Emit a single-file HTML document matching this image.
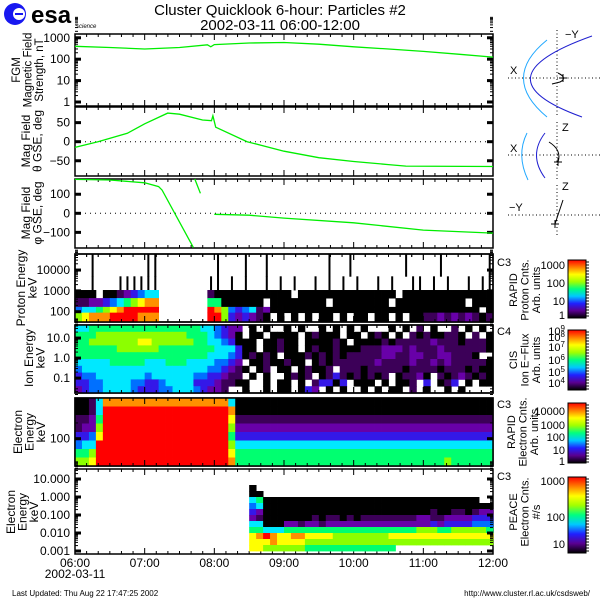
<!DOCTYPE html>
<html><head><meta charset="utf-8"><style>
html,body{margin:0;padding:0;background:#fff;}
svg{display:block;font-family:"Liberation Sans",sans-serif;}
</style></head><body>
<svg id="chart" width="600" height="600" viewBox="0 0 600 600" xmlns="http://www.w3.org/2000/svg">
<rect x="0" y="0" width="600" height="600" fill="#fff"/>
<g>
<circle cx="15" cy="14" r="11" fill="#1818f0"/>
<circle cx="19" cy="14" r="6" fill="#fff"/>
<rect x="15" y="13" width="8" height="2" fill="#1818f0"/>
<text x="31" y="23" font-size="24" font-weight="bold" fill="#000">esa</text>
<text x="76" y="28" font-size="6" font-style="italic" fill="#000">science</text>
</g>
<text x="280" y="15" font-size="15" text-anchor="middle">Cluster Quicklook 6-hour: Particles #2</text>
<text x="280" y="30" font-size="15" text-anchor="middle">2002-03-11 06:00-12:00</text>
<g id="plots"></g>
<g fill="none">
<g stroke="#000" stroke-dasharray="1,2.5" stroke-width="1">
<line x1="508" y1="78" x2="600" y2="78"/><line x1="557" y1="30" x2="557" y2="117"/>
<line x1="508" y1="155" x2="600" y2="155"/><line x1="557" y1="122" x2="557" y2="180"/>
<line x1="508" y1="215" x2="600" y2="215"/><line x1="557" y1="185" x2="557" y2="237"/>
</g>
<path d="M547,40 Q500,78 547,117" stroke="#20a8ff"/>
<path d="M592,36 Q474,78 582,117" stroke="#2020d0"/>
<path d="M527,133 Q516,155 528,180" stroke="#20a8ff"/>
<path d="M545,133 Q528,155 545,178" stroke="#2020d0"/>
<path d="M558,73 Q568,78 560,82 L552,84" stroke="#000"/>
<path d="M549,142 Q562,150 558,162" stroke="#000"/>
<path d="M563,200 L555,224" stroke="#000"/>
<g stroke="#000"><line x1="559" y1="78" x2="567" y2="78"/><line x1="563" y1="74" x2="563" y2="82"/>
<line x1="554" y1="162" x2="562" y2="162"/><line x1="558" y1="158" x2="558" y2="166"/>
<line x1="551" y1="224" x2="559" y2="224"/><line x1="555" y1="220" x2="555" y2="228"/></g>
<g fill="#000" stroke="none" font-size="11">
<text x="565" y="38">−Y</text><text x="510" y="74">X</text>
<text x="562" y="131">Z</text><text x="510" y="152">X</text>
<text x="562" y="190">Z</text><text x="509" y="211">−Y</text>
</g>
</g>
<text x="75" y="578" font-size="12" text-anchor="middle">2002-03-11</text>
<text x="12" y="596" font-size="8">Last Updated:  Thu Aug 22 17:47:25 2002</text>
<text x="590" y="596" font-size="8" text-anchor="end">http://www.cluster.rl.ac.uk/csdsweb/</text>
</svg>
<script>
// ---------- data ----------
const hourTicks = ["06:00","07:00","08:00","09:00","10:00","11:00","12:00"];
const fgmT = [6.0,6.5,7.0,7.5,7.9,7.95,8.0,8.5,9.0,9.5,10.0,10.5,11.0,11.5,12.0];
const fgmV = [400,350,300,350,470,380,480,570,600,500,380,300,230,170,125];
const thetaT = [6.0,6.33,6.75,7.0,7.33,7.5,7.83,7.96,7.98,8.02,8.47,9.0,9.5,10.0,10.5,10.75,12.0];
const thetaV = [-15,0,22,47,75,72,57,55,68,38,0,-25,-42,-52,-60,-64,-65];
const phiT = [6.0,6.5,7.0,7.2,7.25,7.7,null,7.72,7.8,null,8.0,8.5,9.0,10.0,11.0,12.0];
const phiV = [178,175,160,140,122,-180,null,180,105,null,-5,-10,-25,-50,-88,-104];
const fgmTicks = [1,10,100,1000];
const thetaTicks = [-50,0,50];
const phiTicks = [-100,0,100];
const protonTicks = [100,1000,10000];
const ionTicks = [0.1,1,10];
const elecTicks = [100];
const peaceTicks = [0.001,0.01,0.1,1,10];
const peaceTickLabels = ["0.001","0.010","0.100","1.000","10.000"];
const ionTickLabels = ["0.1","1.0","10.0"];
// spectrogram rows (top -> bottom), one char per 6-minute bin, '.' = no data
const protonEdges = [59000,5000,1100,450,170,90,32];
const protonSpikeRows = 2;
const protonRows = [
"..0.......00........0...0..0........0..0.......0....0......0",
"..0...000000.......00.0.0..0.0.0..0.0.0.0..0.0..00.0.0..0.00",
"000.00123455.......100000000000.00000000000000.0000000000000",
"112234567899.......66000000.00000000.00000000.0000000000.000",
"4556789RRRRR.......R97434512000000000000000000000000000000.0",
"78999RRRR999.......RR7323210.0.0.0.00.0.00.00.0.0011212121010"];
const ionRows = [
"556666666666666666554322.0.0..0.0..0.0.0.0...0.0.1.0..1.0.0",
"666777777777777766654320.00.0000.01000.00.010.0.10100110.1.00",
"66777777788777777665543000.00100.000010.00001011111211101110",
"66666677777766666666555300.00100.010010001112221211121111110",
"66666666666666666665554301010.0001010101111122112211221110",
"555556666655566655554432.00100100.01011111121111211212111110",
"4555555555555555555443210.01.00.01001.1110111110111101110100",
"344555555545555554433211.0.0..0101.0131010101.01120.10121010",
"3344555544334555533321100..0.00.0.13303.000.0.001.3.013.0.00",
"2344555543334455543221..0..0.00.032.0.0..0.0.00.1.0..0.0.."];
const elecRows = [
"001599999999999999999950000000000000000000000000000000000000",
"0015RRRRRRRRRRRRRRRRRR90000000000000000000000000000000000000",
"1126RRRRRRRRRRRRRRRRRR81111111111111111111111111111111111111",
"1227RRRRRRRRRRRRRRRRRR72222222222222222222222222222222222222",
"3348RRRRRRRRRRRRRRRRRR63333333333333333333333333333333333333",
"455RRRRRRRRRRRRRRRRRRR75555555555555555555555555555555555555",
"667RRRRRRRRRRRRRRRRRRR86666666666666666666666666666666666666",
"778RRRRRRRRRRRRRRRRRRR96666666666666666666666666666667666666"];
const peaceStartBin = 25;
const peaceRows = [
"...................................",
"0..................................",
"00.................................",
"560000000000000000000000000000000..",
"45000000000000000000000000000000000",
"32000000000000000000000000100110122",
"21000000010110101111111122112222333",
"55000221221222222222222222323333444",
"66555666666666666666666677766777776",
"89R98899888877777777888888888888888",
"88898888777777777777777777777777777",
"887777776666666666666..............."];
// ---------- helpers ----------
const svg = document.getElementById('plots');
const NS = 'http://www.w3.org/2000/svg';
const X0 = 75, X1 = 493;
function xs(t){ return X0 + (t-6)/6*(X1-X0); }
function logY(y0,y1,lo,hi){ return v => y1 - (Math.log10(v)-Math.log10(lo))/(Math.log10(hi)-Math.log10(lo))*(y1-y0); }
function linY(y0,y1,lo,hi){ return v => y1 - (v-lo)/(hi-lo)*(y1-y0); }
const CMAP = {'0':'#000000','1':'#3c0058','2':'#6800a8','3':'#3418e8','4':'#0070ff','5':'#00e8ff','6':'#00ff70','7':'#8cff00','8':'#ffff00','9':'#ff9000','R':'#ff0000'};
function mk(tag, attrs, parent){
  const e = document.createElementNS(NS, tag);
  for (const k in attrs) e.setAttribute(k, attrs[k]);
  (parent||svg).appendChild(e); return e;
}
function frame(y0,y1,name){
  const g = mk('g',{});
  
  
  mk('rect',{x:X0,y:y0,width:X1-X0,height:y1-y0,fill:'none',stroke:'#000','stroke-width':1.5},g);
  for(let m=0;m<=36;m++){
    const x = X0 + m*(X1-X0)/36; const L = (m%6===0)?6:3;
    mk('line',{x1:x,y1:y0,x2:x,y2:y0+L,stroke:'#000'},g);
    mk('line',{x1:x,y1:y1,x2:x,y2:y1-L,stroke:'#000'},g);
  }
  return g;
}
function yTicks(g, ticks, labels, yf, isLog){
  ticks.forEach((v,i)=>{
    const y = yf(v);
    const t = mk('text',{x:70,y:y+4,'font-size':12,'text-anchor':'end'},g);
    
    
    t.textContent = labels ? labels[i] : String(v).replace('-','−');
    mk('line',{x1:X0,y1:y,x2:X0+6,y2:y,stroke:'#000','stroke-width':3},g);
    mk('line',{x1:X1,y1:y,x2:X1-6,y2:y,stroke:'#000','stroke-width':3},g);
    if(isLog){
      for(let k=2;k<=9;k++){
        const yy = yf(v*k);
        if(yy<0||!isFinite(yy)) continue;
        mk('line',{x1:X0,y1:yy,x2:X0+3,y2:yy,stroke:'#000'},g);
        mk('line',{x1:X1,y1:yy,x2:X1-3,y2:yy,stroke:'#000'},g);
      }
    }
  });
}
function vlabel(lines, cx, cy, name, size){
  const t = mk('text',{transform:`translate(${cx},${cy}) rotate(-90)`,'font-size':size||12,'text-anchor':'middle'});
  
  
  lines.forEach((s,i)=>{ const ts = mk('tspan',{x:0,dy:i===0?0:11.5},t); ts.textContent=s; });
}
function line(T,V,xf,yf,g,name){
  let d=''; let pen=false;
  T.forEach((t,i)=>{ if(t===null){pen=false;return;} d += (pen?'L':'M')+xf(t).toFixed(1)+','+yf(V[i]).toFixed(1); pen=true; });
  const p = mk('path',{d:d,fill:'none',stroke:'#00ee00','stroke-width':1.3},g);
  
  
}
function spec(rows, edgesY, g, name, startBin, spikeRows){
  rows.forEach((r,ri)=>{
    for(let b=0;b<r.length;b++){
      const c = r[b]; if(!(c in CMAP)) continue;
      const bin = b + (startBin||0); if(bin>59) continue;
      let x = xs(6+bin*0.1), w = xs(6+(bin+1)*0.1)-x + 0.4;
      if(spikeRows && ri < spikeRows){ x = x + w/2 - 1; w = 2; }
      const cell = mk('rect',{x:x,y:edgesY[ri],width:w,height:edgesY[ri+1]-edgesY[ri]+0.4,fill:CMAP[c]},g);
      
      
    }
  });
}
function hdots(y,g){ mk('line',{x1:X0,y1:y,x2:X1,y2:y,stroke:'#000','stroke-dasharray':'1,4'},g); }
function cbar(y0,y1,labels,ys,name,sup){
  const g = mk('g',{});
  
  
  const id='grad'+name;
  const lg = mk('linearGradient',{id:id,x1:0,y1:1,x2:0,y2:0},g);
  ['#000000','#5a0090','#2020ff','#00c8ff','#00ff80','#a0ff00','#ffff00','#ff8000','#ff0000'].forEach((c,i,a)=>mk('stop',{offset:i/(a.length-1),'stop-color':c},lg));
  mk('rect',{x:568,y:y0,width:18,height:y1-y0,fill:`url(#${id})`,stroke:'#000'},g);
  for(let y=y0+2;y<y1;y+=3) mk('line',{x1:586,y1:y,x2:589,y2:y,stroke:'#000'},g);
  labels.forEach((s,i)=>{
    const t = mk('text',{x:565,y:ys[i]+4,'font-size':11,'text-anchor':'end'},g);
    if(sup){ t.textContent='10'; const ts=mk('tspan',{dy:-4,'font-size':8},t); ts.textContent=s; }
    else t.textContent=s;
  });
}
// ---------- panel 1: FGM ----------
let g = frame(34,106,'fgm-panel');
let yf = logY(34,102,1,1500);
yTicks(g,fgmTicks,null,yf,true);
line(fgmT,fgmV,xs,yf,g,'fgm-strength-line');
vlabel(['FGM','Magnetic Field','Strength, nT'],20,70,'fgm-y-axis-title',11.5);
// ---------- panel 2: theta ----------
g = frame(107,176,'theta-panel');
yf = linY(107,176,-90,91);
hdots(yf(0),g);
yTicks(g,thetaTicks,null,yf,false);
line(thetaT,thetaV,xs,yf,g,'theta-line');
vlabel(['Mag Field','θ GSE, deg'],30,141,'theta-y-axis-title',12);
// ---------- panel 3: phi ----------
g = frame(179,248,'phi-panel');
yf = linY(179,248,-182,180);
hdots(yf(0),g);
yTicks(g,phiTicks,null,yf,false);
line(phiT,phiV,xs,yf,g,'phi-line');
vlabel(['Mag Field','φ GSE, deg'],30,213,'phi-y-axis-title',12);
// ---------- panel 4: proton ----------
g = frame(254,322,'proton-panel');
yf = logY(254,322,32,59000);
spec(protonRows, protonEdges.map(yf), g, 'proton', 0, protonSpikeRows);
frame(254,322,'proton-frame');
yTicks(g,protonTicks,null,yf,true);
vlabel(['Proton Energy','keV'],25,288,'proton-y-axis-title',12);
// ---------- panel 5: ion ----------
g = frame(325,393,'ion-panel');
yf = logY(325,393,0.018,45);
const ionEdgesY = ionRows.map((r,i)=>325+i*(68/ionRows.length)).concat([393]);
spec(ionRows, ionEdgesY, g, 'ion');
frame(325,393,'ion-frame');
yTicks(g,ionTicks,ionTickLabels,yf,true);
vlabel(['Ion Energy','keV'],33,358,'ion-y-axis-title',12);
// ---------- panel 6: RAPID electrons ----------
g = frame(398,466,'rapid-electron-panel');
const elecEdgesY = elecRows.map((r,i)=>398+i*(68/elecRows.length)).concat([466]);
spec(elecRows, elecEdgesY, g, 'rapid-electron');
frame(398,466,'rapid-electron-frame');
yf = logY(398,466,30,600);
yTicks(g,elecTicks,null,yf,true);
vlabel(['Electron','Energy','keV'],22,432,'rapid-electron-y-axis-title',12);
// ---------- panel 7: PEACE ----------
g = frame(469,554,'peace-panel');
yf = logY(479,551,0.001,10);
const peaceEdgesY = peaceRows.map((r,i)=>479+i*(72/peaceRows.length)).concat([551]);
spec(peaceRows, peaceEdgesY, g, 'peace', peaceStartBin);
yTicks(g,peaceTicks,peaceTickLabels,yf,true);
vlabel(['Electron','Energy','keV'],15,512,'peace-y-axis-title',12);
// time labels
hourTicks.forEach((s,i)=>{
  const t = mk('text',{x:xs(6+i),y:567,'font-size':12,'text-anchor':'middle'});
  
  
  t.textContent = s;
});
// right side labels and colorbars
[['C3',262],['C4',331],['C3',404],['C3',476]].forEach(a=>{
  const t = mk('text',{x:497,y:a[1]+4,'font-size':11});
  
  
  t.textContent=a[0];
});
vlabel(['RAPID','Proton Cnts.','Arb. units'],517,290,'proton-colorbar-title',11);
vlabel(['CIS','Ion E−Flux','Arb. units'],517,360,'ion-colorbar-title',11);
vlabel(['RAPID','Electron Cnts.','Arb. units'],515,432,'electron-colorbar-title',11);
vlabel(['PEACE','Electron Cnts.','#/s'],517,512,'peace-colorbar-title',11);
cbar(260,318,['1000','100','10','1'],[265,283,301,315],'proton-colorbar');
cbar(330,390,['9','8','7','6','5','4'],[331,337,347,360,372,383],'ion-colorbar',true);
cbar(403,463,['10000','1000','100','10','1'],[411,425,437,450,461],'electron-colorbar');
cbar(477,553,['1000','100','10'],[481,517,544],'peace-colorbar');
</script>
</body></html>
